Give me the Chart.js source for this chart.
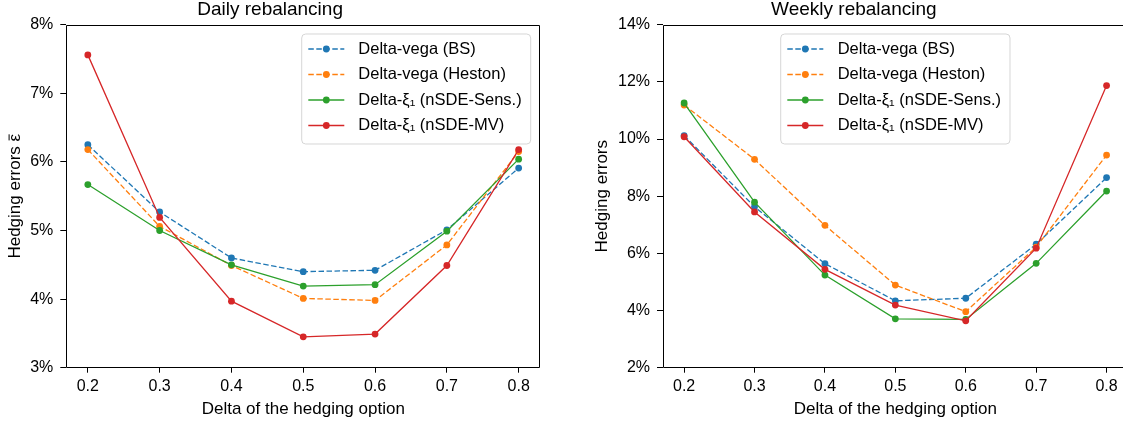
<!DOCTYPE html>
<html><head><meta charset="utf-8">
<script src="https://cdn.jsdelivr.net/npm/chart.js@4"></script>
<style>
html,body{margin:0;padding:0;background:#fff;overflow:hidden;width:1123px;height:423px;position:relative;}
#c1{position:absolute;left:0;top:0;width:560px;height:423px;}
#c2{position:absolute;left:580px;top:0;width:560px;height:423px;}
</style></head><body>
<canvas id="c1" width="560" height="423"></canvas>
<canvas id="c2" width="560" height="423"></canvas>
<script>
// ---- data ----
const deltas = [0.2, 0.3, 0.4, 0.5, 0.6, 0.7, 0.8];
const seriesNames = ['Delta-vega (BS)', 'Delta-vega (Heston)', 'Delta-\u03BE\u2081 (nSDE-Sens.)', 'Delta-\u03BE\u2081 (nSDE-MV)'];

const dailyBS     = [6.25, 5.27, 4.60, 4.40, 4.42, 5.01, 5.91];
const dailyHeston = [6.18, 5.06, 4.49, 4.01, 3.98, 4.79, 6.15];
const dailySens   = [5.67, 5.00, 4.50, 4.19, 4.21, 4.99, 6.04];
const dailyMV     = [7.56, 5.19, 3.97, 3.45, 3.49, 4.49, 6.18];

const weeklyBS     = [10.12, 7.63, 5.64, 4.34, 4.43, 6.32, 8.65];
const weeklyHeston = [11.19, 9.29, 6.98, 4.89, 3.96, 6.22, 9.44];
const weeklySens   = [11.26, 7.79, 5.24, 3.71, 3.69, 5.65, 8.18];
const weeklyMV     = [10.08, 7.45, 5.44, 4.19, 3.64, 6.18, 11.87];

const dailyTicks  = [3, 4, 5, 6, 7, 8];
const weeklyTicks = [2, 4, 6, 8, 10, 12, 14];

// ---- styles ----
const FONT = "'Liberation Sans', Arial, sans-serif";
const colors = ['#1f77b4', '#ff7f0e', '#2ca02c', '#d62728'];
const dashes = [[5.5, 2.5], [5.5, 2.5], [], []];
const YTITLE_SIZE = 17;

function makeDatasets(arrs) {
  return arrs.map((vals, i) => ({
    label: seriesNames[i],
    data: deltas.map((d, k) => ({x: d, y: vals[k]})),
    borderColor: colors[i],
    backgroundColor: colors[i],
    borderWidth: 1.3,
    borderDash: dashes[i],
    pointRadius: 3.4,
    pointBorderWidth: 0,
    pointBackgroundColor: colors[i],
    tension: 0,
    order: 4 - i
  }));
}

const framePlugin = {
  id: 'frameAndLegend',
  afterDraw(chart, args, opts) {
    const ctx = chart.ctx;
    const a = chart.chartArea;
    ctx.save();
    ctx.strokeStyle = '#000';
    ctx.lineWidth = 1;
    ctx.beginPath();
    const l = Math.round(a.left) + 0.5, t = Math.round(a.top) + 0.5;
    const r = Math.round(a.right) - 0.5, b = Math.round(a.bottom) - 0.5;
    ctx.rect(l, t, r - l, b - t);
    ctx.stroke();

    // overline on the last glyph of the y-axis title (epsilon bar)
    if (opts.barLast) {
      const ys = chart.scales.y;
      const yt = ys.options.title;
      const fontStr = YTITLE_SIZE + 'px ' + FONT;
      ctx.font = fontStr;
      const text = yt.text;
      const w = ctx.measureText(text).width;
      const wl = ctx.measureText(text.slice(-1)).width;
      const tx = ys.left + YTITLE_SIZE * 1.2 / 2 + yt.padding.top;
      const ty = (a.top + a.bottom) / 2;
      ctx.translate(tx, ty);
      ctx.rotate(-Math.PI / 2);
      ctx.strokeStyle = '#000';
      ctx.lineWidth = 1;
      ctx.beginPath();
      ctx.moveTo(w / 2 - wl + 1, -6.5);
      ctx.lineTo(w / 2 - 0.5, -6.5);
      ctx.stroke();
      ctx.setTransform(1, 0, 0, 1, 0, 0);
    }

    // legend
    const L = opts.box;
    const rad = 4;
    ctx.beginPath();
    ctx.moveTo(L.x + rad, L.y);
    ctx.arcTo(L.x + L.w, L.y, L.x + L.w, L.y + L.h, rad);
    ctx.arcTo(L.x + L.w, L.y + L.h, L.x, L.y + L.h, rad);
    ctx.arcTo(L.x, L.y + L.h, L.x, L.y, rad);
    ctx.arcTo(L.x, L.y, L.x + L.w, L.y, rad);
    ctx.closePath();
    ctx.fillStyle = 'rgba(255,255,255,0.8)';
    ctx.fill();
    ctx.strokeStyle = 'rgba(204,204,204,0.8)';
    ctx.lineWidth = 1;
    ctx.stroke();
    chart.data.datasets.forEach((ds, i) => {
      const y = L.row0 + i * L.step;
      ctx.strokeStyle = ds.borderColor;
      ctx.lineWidth = ds.borderWidth;
      ctx.setLineDash(ds.borderDash || []);
      ctx.beginPath();
      ctx.moveTo(L.lx0, y);
      ctx.lineTo(L.lx1, y);
      ctx.stroke();
      ctx.setLineDash([]);
      ctx.fillStyle = ds.pointBackgroundColor;
      ctx.beginPath();
      ctx.arc((L.lx0 + L.lx1) / 2, y, ds.pointRadius, 0, Math.PI * 2);
      ctx.fill();
      ctx.fillStyle = '#000';
      ctx.font = L.fontSize + 'px ' + FONT;
      ctx.textBaseline = 'middle';
      ctx.textAlign = 'left';
      ctx.fillText(ds.label, L.tx, y);
    });
    ctx.restore();
  }
};

function makeChart(id, cfg) {
  return new Chart(document.getElementById(id), {
    type: 'line',
    data: {datasets: makeDatasets(cfg.arrs)},
    options: {
      responsive: false,
      animation: false,
      events: [],
      layout: {padding: {left: 0, right: cfg.padRight, top: 0, bottom: 0}},
      plugins: {
        legend: {display: false},
        tooltip: {enabled: false},
        title: {
          display: true, text: cfg.title, color: '#000',
          font: {family: FONT, size: 19, weight: 'normal', lineHeight: 1.0},
          padding: {top: 0, bottom: 5.7}
        },
        frameAndLegend: {box: cfg.legend, barLast: cfg.barLast}
      },
      scales: {
        x: {
          type: 'linear', min: 0.17, max: 0.83,
          afterBuildTicks: s => { s.ticks = deltas.map(v => ({value: v})); },
          afterFit: s => { s.height = 423 - 367.7; },
          ticks: {
            callback: v => Number(v).toFixed(1),
            color: '#000', font: {family: FONT, size: 16}, padding: 4.4,
            maxRotation: 0, autoSkip: false
          },
          grid: {display: true, drawOnChartArea: false, drawTicks: true, tickLength: 5, tickColor: '#000', tickWidth: 1, color: '#000'},
          border: {display: false},
          title: {display: true, text: 'Delta of the hedging option', color: '#000',
                  font: {family: FONT, size: 17}, padding: {top: 0, bottom: 3}}
        },
        y: {
          type: 'linear', min: cfg.ymin, max: cfg.ymax,
          afterBuildTicks: s => { s.ticks = cfg.yticks.map(v => ({value: v})); },
          afterFit: s => { s.width = cfg.yWidth; },
          ticks: {
            callback: v => v + '%',
            color: '#000', font: {family: FONT, size: 16}, padding: 7
          },
          grid: {display: true, drawOnChartArea: false, drawTicks: true, tickLength: 6, tickColor: '#000', tickWidth: 1, color: '#000'},
          border: {display: false},
          title: {display: true, text: cfg.ytitle, color: '#000',
                  font: {family: FONT, size: YTITLE_SIZE}, padding: {top: cfg.yTitlePad, bottom: 0}}
        }
      }
    },
    plugins: [framePlugin]
  });
}

makeChart('c1', {
  arrs: [dailyBS, dailyHeston, dailySens, dailyMV],
  title: 'Daily rebalancing',
  ytitle: 'Hedging errors \u03B5',
  barLast: true,
  ymin: 3, ymax: 8, yticks: dailyTicks,
  yWidth: 66.3, padRight: 19.8, yTitlePad: 5.4,
  legend: {x: 301.7, y: 34, w: 229, h: 110, row0: 49, step: 25.5, lx0: 308.3, lx1: 344.3, tx: 358.3, fontSize: 16.5}
});

makeChart('c2', {
  arrs: [weeklyBS, weeklyHeston, weeklySens, weeklyMV],
  title: 'Weekly rebalancing',
  ytitle: 'Hedging errors',
  barLast: false,
  ymin: 2, ymax: 14, yticks: weeklyTicks,
  yWidth: 83, padRight: 12.3, yTitlePad: 12.4,
  legend: {x: 200.7, y: 34, w: 229.3, h: 110, row0: 49, step: 25.5, lx0: 207.3, lx1: 243.3, tx: 257.7, fontSize: 16.5}
});
</script>
</body></html>
